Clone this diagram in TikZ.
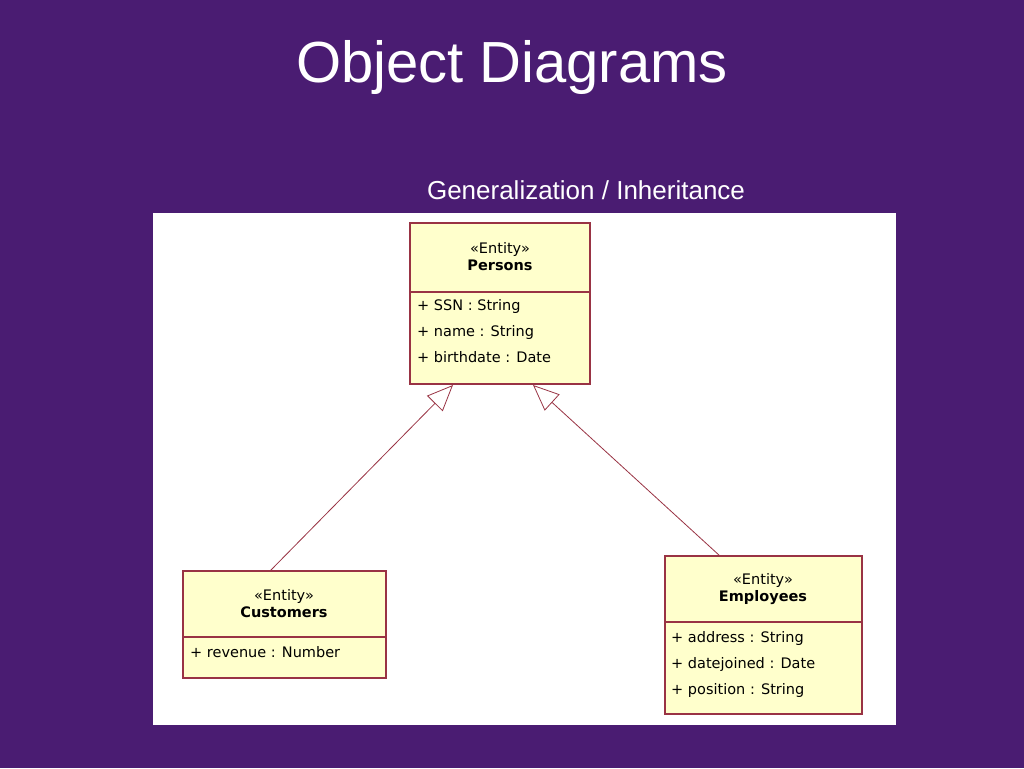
\documentclass[tikz,border=0pt]{standalone}
\usepackage{fontspec}
\setmainfont{Liberation Sans}
\newfontfamily\boxfont{DejaVu Sans}
\usetikzlibrary{arrows.meta}
\definecolor{bgp}{HTML}{4A1C72}
\definecolor{boxfill}{HTML}{FFFFCC}
\definecolor{boxline}{HTML}{993344}
\begin{document}
\begin{tikzpicture}[x=1pt,y=-1pt,
  cls/.style={draw=boxline,fill=boxfill,line width=1.2pt},
  hd/.style={font=\boxfont\fontsize{14.5}{17}\selectfont,align=center},
  attr/.style={font=\boxfont\fontsize{14.5}{26}\selectfont,align=left,anchor=north west,inner sep=0pt},
  gen/.style={draw=boxline,line width=0.8pt,-{Triangle[open,length=26pt,width=22pt,fill=white]}}]
\fill[bgp] (0,0) rectangle (1024,768);
\useasboundingbox (0,0) rectangle (1024,768);
\node[white,font=\fontsize{58}{60}\selectfont] (title) at (512,68) {Object Diagrams};
\node[white,font=\fontsize{26}{30}\selectfont] (sub) at (586,190) {Generalization / Inheritance};
\fill[white] (153,213) rectangle (896,725);
% Persons
\draw[cls] (410,223) rectangle (590,384);
\draw[boxline,line width=1.2pt] (410,292) -- (590,292);
\node[hd] (ph) at (500,257) {«Entity»\\\textbf{Persons}};
\node[attr] (pa) at (417,299) {+ SSN : String\\+ name : String\\+ birthdate : Date};
% Customers
\draw[cls] (183,571) rectangle (386,678);
\draw[boxline,line width=1.2pt] (183,637) -- (386,637);
\node[hd] (ch) at (284,604) {«Entity»\\\textbf{Customers}};
\node[attr] (ca) at (190,646) {+ revenue : Number};
% Employees
\draw[cls] (665,556) rectangle (862,714);
\draw[boxline,line width=1.2pt] (665,622) -- (862,622);
\node[hd] (eh) at (763,589) {«Entity»\\\textbf{Employees}};
\node[attr] (ea) at (671,631) {+ address : String\\+ datejoined : Date\\+ position : String};
\coordinate (c1) at (270,571);
\coordinate (p1) at (453,385);
\coordinate (e1) at (720,556);
\coordinate (p2) at (533,385);
\draw[gen] (c1) -- (p1);
\draw[gen] (e1) -- (p2);
\end{tikzpicture}
\end{document}
